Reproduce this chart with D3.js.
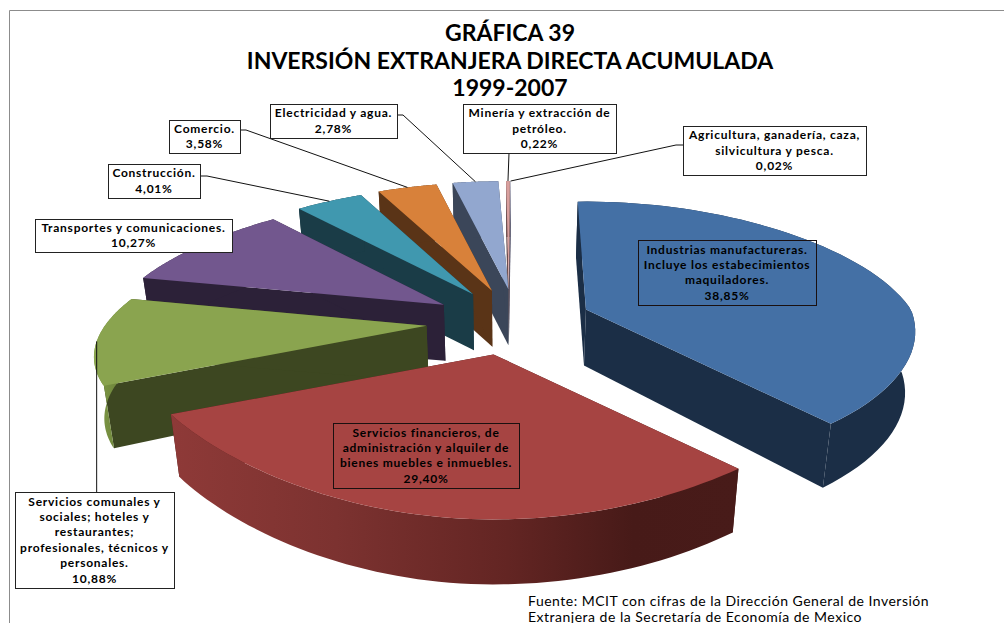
<!DOCTYPE html>
<html>
<head>
<meta charset="utf-8">
<script src="https://cdn.jsdelivr.net/npm/d3@7"></script>
<style>
  html, body { margin: 0; padding: 0; background: #fff; overflow: hidden; }
  text { font-family: Lato, "Open Sans", sans-serif; fill: #000; }
</style>
</head>
<body>
<div id="chart"></div>
<script>
// chart values
var categories = [
  "Industrias manufactureras",
  "Servicios financieros",
  "Servicios comunales",
  "Transportes y comunicaciones",
  "Construcción",
  "Comercio",
  "Electricidad y agua",
  "Minería y extracción de petróleo",
  "Agricultura"
];
var values = [38.85, 29.40, 10.88, 10.27, 4.01, 3.58, 2.78, 0.22, 0.02];
var labelLines = [
  ["Industrias manufactureras.", "Incluye los estabecimientos", "maquiladores."],
  ["Servicios financieros, de", "administración y alquiler de", "bienes muebles e inmuebles."],
  ["Servicios comunales y", "sociales; hoteles y", "restaurantes;", "profesionales, técnicos y", "personales."],
  ["Transportes y comunicaciones."],
  ["Construcción."],
  ["Comercio."],
  ["Electricidad y agua."],
  ["Minería y extracción de", "petróleo."],
  ["Agricultura, ganadería, caza,", "silvicultura y pesca."]
];
var titleLines = ["GRÁFICA 39", "INVERSIÓN EXTRANJERA DIRECTA ACUMULADA", "1999-2007"];
var sourceLines = [
  "Fuente:  MCIT con cifras de la Dirección General de Inversión",
  "Extranjera de la Secretaría de Economía de Mexico"
];

// colours per slice
var topColors  = ["#4470a5", "#a64442", "#8aa44f", "#72578e", "#4098af", "#d8813a", "#92a7cf", "#d9a09e", "#c9c9dc"];
var wallColors = ["#1b2e46", "#481b19", "#3d4721", "#2c2138", "#1a3c47", "#5a3417", "#3b4659", "#6b4d4d", "#55556b"];

// label boxes: x0, y0, x1, y1
var boxes = [
  [638, 240, 816, 305],
  [333, 423, 519, 488],
  [15, 492, 174, 588],
  [35, 219, 232, 252],
  [108, 164, 200, 198],
  [169, 120, 240, 153],
  [270, 104, 397, 138],
  [463, 104, 616, 153],
  [683, 126, 866, 175]
];
// where each leader leaves its box, null = no leader
var leaders = [
  null, null,
  [],
  null,
  [[200, 176], [207, 176]],
  [[240, 130], [246, 130]],
  [[397, 115], [403, 115]],
  [[509, 153]],
  [[683, 145], [676, 145]]
];

var width = 1004, height = 623;
var cx = 509, cy = 322;          // pie centre on the page
var explodeX = 83, explodeY = 33;

var svg = d3.select("#chart").append("svg")
    .attr("width", width)
    .attr("height", height)
    .style("display", "block");

// frame (cut off on the right and at the bottom)
svg.append("path")
    .attr("d", "M9.5," + height + "V10.5H" + width)
    .attr("fill", "none")
    .attr("stroke", "#8c8c8c")
    .attr("stroke-width", 1);

var deg = Math.PI / 180;
var pie = d3.pie().value(function(d) { return d; }).sort(null)
    .startAngle(-2 * deg).endAngle(358 * deg);
var arcs = pie(values);

// perspective: the far side of the pie is narrower and flatter
var radiusXRight = d3.scaleLinear().domain([-1, -0.74, 0, 1]).range([365, 365, 325, 235]);
var radiusXLeft  = d3.scaleLinear().domain([-1, -0.44, 1]).range([360, 360, 235]);
var radiusYRight = d3.scaleLinear().domain([-1, -0.74, 0, 1]).range([165, 154, 135, 108]);
var radiusYLeft  = d3.scaleLinear().domain([-1, -0.44, 0, 1]).range([165, 135, 125, 108]);
var depth        = d3.scaleLinear().domain([-1, 1]).range([65, 56]);

// exploded position of a slice, used for its rim
function basePoint(d) {
  var mid = (d.startAngle + d.endAngle) / 2;
  return [cx + explodeX * Math.sin(mid), cy - explodeY * Math.cos(mid)];
}
// inner tip of a slice: the far left tips lean towards the centre
function apex(d) {
  var p = basePoint(d);
  var mid = (d.startAngle + d.endAngle) / 2;
  var s = Math.sin(mid), c = Math.cos(mid);
  if (s < 0 && c > 0) p[0] += 11 * c * Math.min(1, (2 * Math.PI - mid) / (8 * deg));
  return p;
}
// the last slices read a little later on screen
function warp(a) {
  var v = a / deg;
  return v > 320 ? a + 3.4 * deg * Math.pow((v - 320) / 40, 1.5) : a;
}
function rimPoint(d, angle) {
  var p = basePoint(d), a = warp(angle), c = Math.cos(a), s = Math.sin(a);
  var rx = s >= 0 ? radiusXRight(c) : radiusXLeft(c);
  var ry = s >= 0 ? radiusYRight(c) : radiusYLeft(c);
  return [p[0] + rx * s, p[1] - ry * c];
}
// same point on the underside of the slice
function under(p, c) {
  return [cx + (p[0] - cx) * 0.975, p[1] + depth(c)];
}
function rimAngles(d) {
  return d3.range(0, 61).map(function(i) {
    return d.startAngle + (d.endAngle - d.startAngle) * i / 60;
  });
}

var line = d3.line();

// gradients for the rounded walls
var defs = svg.append("defs");
function addGradient(id, x1, x2, stops) {
  var g = defs.append("linearGradient").attr("id", id)
      .attr("gradientUnits", "userSpaceOnUse")
      .attr("x1", x1).attr("x2", x2).attr("y1", 0).attr("y2", 0);
  stops.forEach(function(s) {
    g.append("stop").attr("offset", s[0]).attr("stop-color", s[1]);
  });
  return "url(#" + id + ")";
}
var redWall = addGradient("redWall", 165, 736, [[0, "#8f3a38"], [0.3, "#7c3230"], [0.6, "#632523"], [0.82, "#471a18"], [1, "#481b19"]]);
var greenWall = addGradient("greenWall", 96, 125, [[0, "#7f9a47"], [1, "#6a8038"]]);

function outerFill(i) {
  if (i === 1) return redWall;
  if (i === 2) return greenWall;
  return wallColors[i];
}

// back slices first, the red one ends up on top
var order = [8, 7, 6, 5, 4, 3, 2, 0, 1];
var slices = svg.selectAll("g.slice")
    .data(order)
    .enter().append("g")
      .attr("class", "slice");

slices.each(function(i) {
  var d = arcs[i], g = d3.select(this);
  var c = apex(d), cBottom = under(c, 1);
  var angles = rimAngles(d);
  var rim = angles.map(function(a) { return rimPoint(d, a); });
  var rimBottom = rim.map(function(p, k) { return under(p, Math.cos(warp(angles[k]))); });

  // two flat cut walls
  [0, rim.length - 1].forEach(function(k) {
    g.append("path")
        .attr("d", line([c, rim[k], rimBottom[k], cBottom]) + "Z")
        .attr("fill", wallColors[i]);
  });
  // rounded outer wall
  g.append("path")
      .attr("d", line(rim.concat(rimBottom.slice().reverse())) + "Z")
      .attr("fill", outerFill(i));
  // top face
  g.append("path")
      .attr("d", line([c].concat(rim)) + "Z")
      .attr("fill", topColors[i]);
});

// leader lines
leaders.forEach(function(pts, i) {
  if (!pts) return;
  var d = arcs[i], mid = (d.startAngle + d.endAngle) / 2;
  if (i === 2) mid = 263 * deg;   // this one runs straight down from the left edge
  var end = rimPoint(d, mid);
  var start = i === 2 ? [[end[0], boxes[i][1]]] : pts;
  svg.append("path")
      .attr("d", line(start.concat([end])))
      .attr("fill", "none")
      .attr("stroke", "#111")
      .attr("stroke-width", 1);
});

// labels
var fmt = d3.format(".2f");
var boxed = svg.selectAll("g.label")
    .data(categories)
    .enter().append("g")
      .attr("class", "label");

boxed.each(function(name, i) {
  var b = boxes[i], g = d3.select(this);
  g.append("rect")
      .attr("x", b[0] + 0.5).attr("y", b[1] + 0.5)
      .attr("width", b[2] - b[0]).attr("height", b[3] - b[1])
      .attr("fill", i < 2 ? "none" : "#fff")
      .attr("stroke", i < 2 ? "#1a1010" : "#222")
      .attr("stroke-width", 1);
  var rows = labelLines[i].concat([fmt(values[i]).replace(".", ",") + "%"]);
  var mx = (b[0] + b[2]) / 2;
  var top = (b[1] + b[3]) / 2 - rows.length * 15.4 / 2;
  rows.forEach(function(t, k) {
    g.append("text")
        .attr("x", mx)
        .attr("y", top + 11.8 + k * 15.4)
        .attr("text-anchor", "middle")
        .attr("font-size", 12)
        .attr("font-weight", 700)
        .attr("letter-spacing", 0.75)
        .text(t);
  });
});

// title
svg.selectAll("text.title")
    .data(titleLines)
    .enter().append("text")
      .attr("class", "title")
      .attr("x", 510)
      .attr("y", function(d, i) { return 41 + i * 27.5; })
      .attr("text-anchor", "middle")
      .attr("font-size", 23)
      .attr("font-weight", 700)
      .text(function(d) { return d; });

// source note
svg.selectAll("text.source")
    .data(sourceLines)
    .enter().append("text")
      .attr("class", "source")
      .attr("x", 528)
      .attr("y", function(d, i) { return 606 + i * 16; })
      .attr("font-size", 14)
      .attr("letter-spacing", 0.5)
      .text(function(d) { return d; });
</script>
</body>
</html>
